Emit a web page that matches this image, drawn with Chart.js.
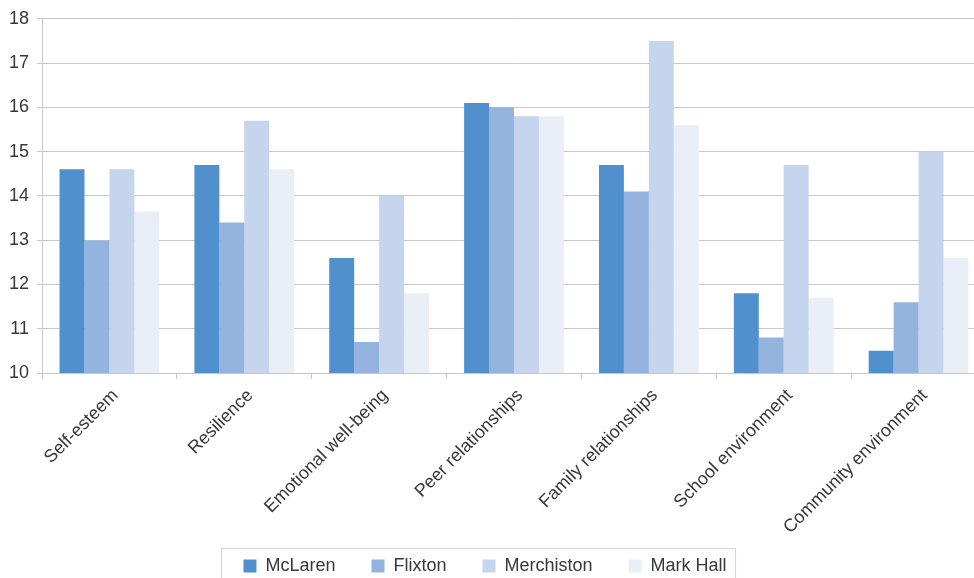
<!DOCTYPE html>
<html>
<head>
<meta charset="utf-8">
<script src="https://cdn.jsdelivr.net/npm/chart.js@4"></script>
<style>
	html, body { margin: 0; padding: 0; background: #fff; overflow: hidden; }
	#wrap { width: 990px; height: 585px; }
</style>
</head>
<body>
<div id="wrap"><canvas id="scoreChart" width="990" height="585"></canvas></div>
<script>
const categories = [
	'Self-esteem',
	'Resilience',
	'Emotional well-being',
	'Peer relationships',
	'Family relationships',
	'School environment',
	'Community environment',
];

const mclaren = [14.6, 14.7, 12.6, 16.1, 14.7, 11.8, 10.5];
const flixton = [13.0, 13.4, 10.7, 16.0, 14.1, 10.8, 11.6];
const merchiston = [14.6, 15.7, 14.0, 15.8, 17.5, 14.7, 15.0];
const markHall = [13.65, 14.6, 11.8, 15.8, 15.6, 11.7, 12.6];

const yTicks = [10, 11, 12, 13, 14, 15, 16, 17, 18];

const FONT = 'Liberation Sans, Arial, sans-serif';
const TEXT = '#383838';
const GRID = '#c8c8c8';

// Nudge the legend a little left, let the long x labels run past the
// axis box, and draw the thin frame around the legend
const legendFrame = {
	id: 'legendFrame',
	afterLayout(chart) {
		if (chart.scales.x) chart.scales.x.bottom += 30;
		if (!chart.legend) return;
		chart.legend.left -= 8;
		chart.legend.right -= 8;
	},
	afterDraw(chart) {
		const boxes = chart.legend && chart.legend.legendHitBoxes;
		if (!boxes || !boxes.length) return;
		const ctx = chart.ctx;
		const first = boxes[0];
		const last = boxes[boxes.length - 1];
		const left = first.left - 22;
		const right = last.left + last.width + 9;
		const top = first.top - 9;
		const bottom = first.top + first.height + 30;
		ctx.save();
		ctx.strokeStyle = '#d4d4d4';
		ctx.lineWidth = 1;
		ctx.strokeRect(Math.round(left) + 0.5, Math.round(top) + 0.5, right - left, bottom - top);
		ctx.restore();
	},
};

const ctx = document.getElementById('scoreChart').getContext('2d');

new Chart(ctx, {
	type: 'bar',
	data: {
		labels: categories,
		datasets: [
			{ label: 'McLaren', data: mclaren, backgroundColor: '#5090cd' },
			{ label: 'Flixton', data: flixton, backgroundColor: '#94b4df' },
			{ label: 'Merchiston', data: merchiston, backgroundColor: '#c5d5ed' },
			{ label: 'Mark Hall', data: markHall, backgroundColor: '#e9eef7' },
		],
	},
	options: {
		responsive: false,
		animation: false,
		layout: { padding: { top: 14, right: 4, left: 0, bottom: 0 } },
		datasets: {
			bar: { barPercentage: 1, categoryPercentage: 0.74, borderWidth: 0 },
		},
		plugins: {
			tooltip: { enabled: false },
			legend: {
				position: 'bottom',
				labels: {
					boxWidth: 13,
					boxHeight: 13,
					padding: 36,
					color: TEXT,
					font: { family: FONT, size: 18 },
				},
			},
		},
		scales: {
			x: {
				offset: true,
				afterFit(scale) {
					scale.height = 148;
				},
				grid: {
					offset: true,
					drawOnChartArea: false,
					drawTicks: true,
					tickLength: 6,
					color: GRID,
				},
				border: { color: GRID },
				ticks: {
					padding: 6,
					labelOffset: 6,
					minRotation: 45,
					maxRotation: 45,
					color: TEXT,
					font: { family: FONT, size: 18 },
				},
			},
			y: {
				min: 10,
				max: 18,
				afterBuildTicks(scale) {
					scale.ticks = yTicks.map((v) => ({ value: v }));
				},
				afterFit(scale) {
					scale.width = 42;
				},
				grid: { color: GRID, tickLength: 5 },
				border: { color: GRID },
				ticks: {
					padding: 8,
					color: TEXT,
					font: { family: FONT, size: 18 },
				},
			},
		},
	},
	plugins: [legendFrame],
});
</script>
</body>
</html>
